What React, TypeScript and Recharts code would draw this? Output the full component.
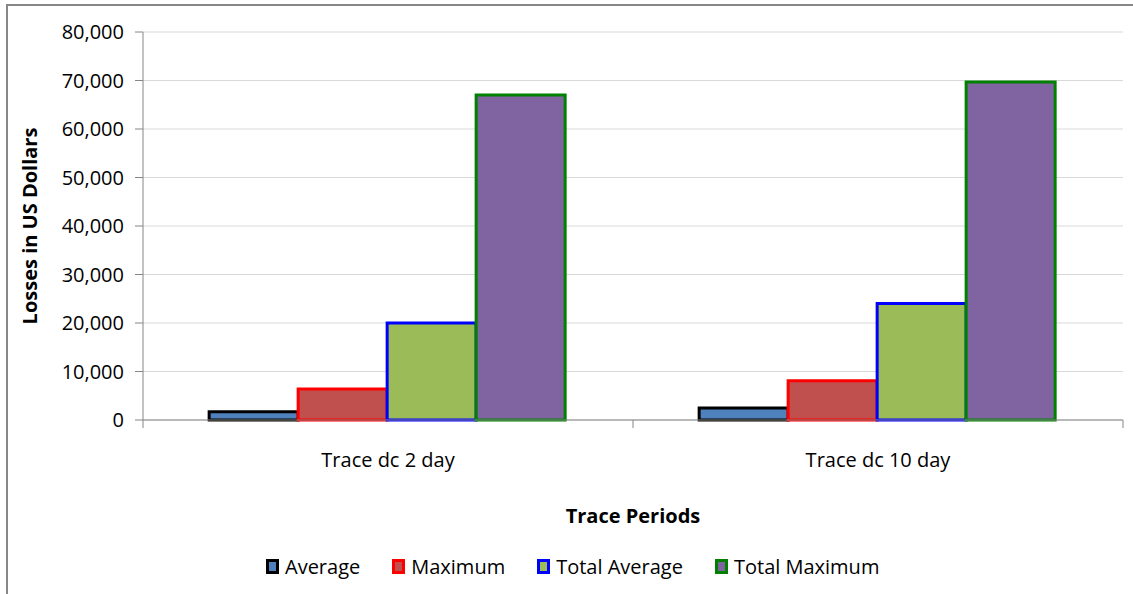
import React from 'react';
import { BarChart, Bar, XAxis, YAxis, CartesianGrid, Legend, Label } from 'recharts';

const categories = ['Trace dc 2 day', 'Trace dc 10 day'];
const averageValues = [1700, 2500];
const maximumValues = [6400, 8100];
const totalAverageValues = [20000, 24000];
const totalMaximumValues = [67000, 69700];
const yTicks = [0, 10000, 20000, 30000, 40000, 50000, 60000, 70000, 80000];

const series = [
  { key: 'average', name: 'Average', fill: '#4F81BD', stroke: '#000000' },
  { key: 'maximum', name: 'Maximum', fill: '#C0504D', stroke: '#FF0000' },
  { key: 'totalAverage', name: 'Total Average', fill: '#9BBB59', stroke: '#0000FF' },
  { key: 'totalMaximum', name: 'Total Maximum', fill: '#8064A2', stroke: '#008000' },
];

const data = categories.map((c, i) => ({
  category: c,
  average: averageValues[i],
  maximum: maximumValues[i],
  totalAverage: totalAverageValues[i],
  totalMaximum: totalMaximumValues[i],
}));

const FONT = '"Open Sans", "Noto Sans", sans-serif';
const AXIS = '#868686';

const CatTick = (props: any) => {
  const { x, y, payload, index, visibleTicksCount } = props;
  const off = typeof payload?.offset === 'number' && payload.offset > 0 ? payload.offset : 245;
  const isLast = index === (visibleTicksCount ?? categories.length) - 1;
  return (
    <g>
      <line x1={x - off} y1={y} x2={x - off} y2={y + 8} stroke={AXIS} strokeWidth={1} />
      {isLast && <line x1={x + off} y1={y} x2={x + off} y2={y + 8} stroke={AXIS} strokeWidth={1} />}
      <text x={x} y={y + 47} textAnchor="middle" fontSize={20} fill="#000" fontFamily={FONT}>
        {payload.value}
      </text>
    </g>
  );
};

const LegendContent = () => (
  <div
    style={{
      display: 'flex',
      alignItems: 'center',
      height: 26,
      paddingLeft: 266,
      fontFamily: FONT,
      fontSize: 20,
      color: '#000',
    }}
  >
    {series.map((s, i) => (
      <div key={s.key} style={{ display: 'flex', alignItems: 'center', marginRight: i < series.length - 1 ? 32 : 0 }}>
        <span
          style={{
            display: 'inline-block',
            width: 13,
            height: 15,
            boxSizing: 'border-box',
            border: `3px solid ${s.stroke}`,
            background: s.fill,
            marginRight: 6,
          }}
        />
        <span style={{ whiteSpace: 'nowrap' }}>{s.name}</span>
      </div>
    ))}
  </div>
);

const YTitle = (props: any) => {
  const vb = props.viewBox || { x: 0, y: 32, height: 388 };
  const cx = 37;
  const cy = vb.y + vb.height / 2;
  return (
    <text
      x={cx}
      y={cy}
      transform={`rotate(-90, ${cx}, ${cy})`}
      textAnchor="middle"
      fontSize={20}
      fontWeight="bold"
      fill="#000"
      fontFamily={FONT}
    >
      Losses in US Dollars
    </text>
  );
};

export default function App() {
  return (
    <div
      style={{
        position: 'absolute',
        left: 0,
        top: 0,
        width: 1133,
        height: 594,
        overflow: 'hidden',
        background: '#fff',
        fontFamily: FONT,
      }}
    >
      <div
        style={{
          position: 'absolute',
          left: 6,
          top: 4,
          width: 1160,
          height: 620,
          border: '2px solid #878787',
          boxSizing: 'border-box',
        }}
      />
      <div style={{ position: 'absolute', left: 0, top: 0 }}>
        <BarChart
          width={1133}
          height={594}
          data={data}
          margin={{ top: 32, right: 10, left: 0, bottom: 38 }}
          barCategoryGap="13.5%"
          barGap={0}
        >
          <CartesianGrid vertical={false} stroke="#d9d9d9" strokeWidth={1} />
          <XAxis
            dataKey="category"
            height={110}
            axisLine={{ stroke: AXIS, strokeWidth: 1 }}
            tickLine={false}
            tickSize={0}
            tickMargin={0}
            tick={<CatTick />}
            interval={0}
          >
            <Label
              value="Trace Periods"
              position="insideBottom"
              offset={7}
              fontSize={20}
              fontWeight="bold"
              fill="#000"
              fontFamily={FONT}
            />
          </XAxis>
          <YAxis
            width={143}
            domain={[0, 80000]}
            ticks={yTicks}
            interval={0}
            axisLine={{ stroke: AXIS, strokeWidth: 1 }}
            tickLine={{ stroke: AXIS, strokeWidth: 1 }}
            tickSize={8}
            tickMargin={11}
            tick={{ fontSize: 20, fill: '#000', fontFamily: FONT }}
            tickFormatter={(v: number) => v.toLocaleString('en-US')}
          >
            <Label content={<YTitle />} />
          </YAxis>
          <Legend
            verticalAlign="bottom"
            content={<LegendContent />}
            wrapperStyle={{ top: 553, bottom: 'auto', left: 0, width: 1133, height: 26 }}
          />
          {series.map((s) => (
            <Bar
              key={s.key}
              dataKey={s.key}
              name={s.name}
              fill={s.fill}
              stroke={s.stroke}
              strokeWidth={3}
              isAnimationActive={false}
            />
          ))}
        </BarChart>
      </div>
    </div>
  );
}
